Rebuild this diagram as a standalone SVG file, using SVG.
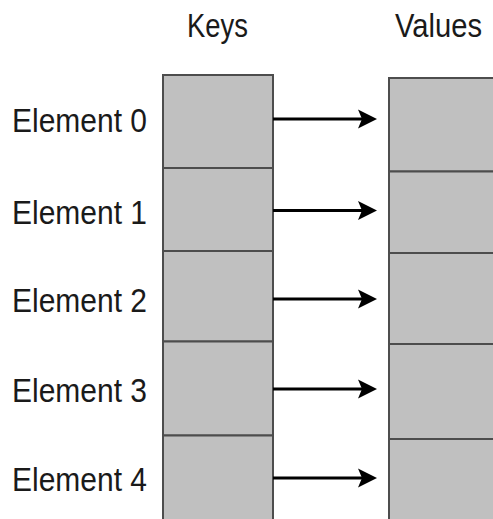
<svg xmlns="http://www.w3.org/2000/svg" width="493" height="519" viewBox="0 0 493 519">
<style>
.cell{fill:#c0c0c0;stroke:#4d4d4d;stroke-width:2}
.lbl{font-family:"Liberation Sans",Arial,sans-serif;font-size:34px;fill:#1a1a1a}
.conn{stroke:#000;stroke-width:3;fill:none}
.head{fill:#000}
</style>
<rect width="493" height="519" fill="#fff"/>
<text class="lbl" x="187" y="37" textLength="61" lengthAdjust="spacingAndGlyphs">Keys</text>
<text class="lbl" x="395" y="37" textLength="87" lengthAdjust="spacingAndGlyphs">Values</text>
<g id="key0"><rect class="cell" x="163" y="75" width="110" height="93"/></g>
<g id="key1"><rect class="cell" x="163" y="168" width="110" height="83"/></g>
<g id="key2"><rect class="cell" x="163" y="251" width="110" height="90.5"/></g>
<g id="key3"><rect class="cell" x="163" y="341.5" width="110" height="94"/></g>
<g id="key4"><rect class="cell" x="163" y="435.5" width="110" height="100"/></g>
<g id="val0"><rect class="cell" x="389" y="78" width="120" height="93.5"/></g>
<g id="val1"><rect class="cell" x="389" y="171.5" width="120" height="81.5"/></g>
<g id="val2"><rect class="cell" x="389" y="253" width="120" height="91"/></g>
<g id="val3"><rect class="cell" x="389" y="344" width="120" height="95"/></g>
<g id="val4"><rect class="cell" x="389" y="439" width="120" height="100"/></g>
<g id="label0"><text class="lbl" x="12" y="132" textLength="135" lengthAdjust="spacingAndGlyphs">Element 0</text></g>
<g id="label1"><text class="lbl" x="12" y="223.5" textLength="135" lengthAdjust="spacingAndGlyphs">Element 1</text></g>
<g id="label2"><text class="lbl" x="12" y="312" textLength="135" lengthAdjust="spacingAndGlyphs">Element 2</text></g>
<g id="label3"><text class="lbl" x="12" y="402" textLength="135" lengthAdjust="spacingAndGlyphs">Element 3</text></g>
<g id="label4"><text class="lbl" x="12" y="491" textLength="135" lengthAdjust="spacingAndGlyphs">Element 4</text></g>
<g id="connectors">
<g transform="translate(0,119)"><line class="conn" x1="273" y1="0" x2="362" y2="0"/><path class="head" d="M377,0 L358,-9.5 L362,0 L358,9.5 Z"/></g>
<g transform="translate(0,210.5)"><line class="conn" x1="273" y1="0" x2="362" y2="0"/><path class="head" d="M377,0 L358,-9.5 L362,0 L358,9.5 Z"/></g>
<g transform="translate(0,299)"><line class="conn" x1="273" y1="0" x2="362" y2="0"/><path class="head" d="M377,0 L358,-9.5 L362,0 L358,9.5 Z"/></g>
<g transform="translate(0,389)"><line class="conn" x1="273" y1="0" x2="362" y2="0"/><path class="head" d="M377,0 L358,-9.5 L362,0 L358,9.5 Z"/></g>
<g transform="translate(0,478)"><line class="conn" x1="273" y1="0" x2="362" y2="0"/><path class="head" d="M377,0 L358,-9.5 L362,0 L358,9.5 Z"/></g>
</g>
</svg>
